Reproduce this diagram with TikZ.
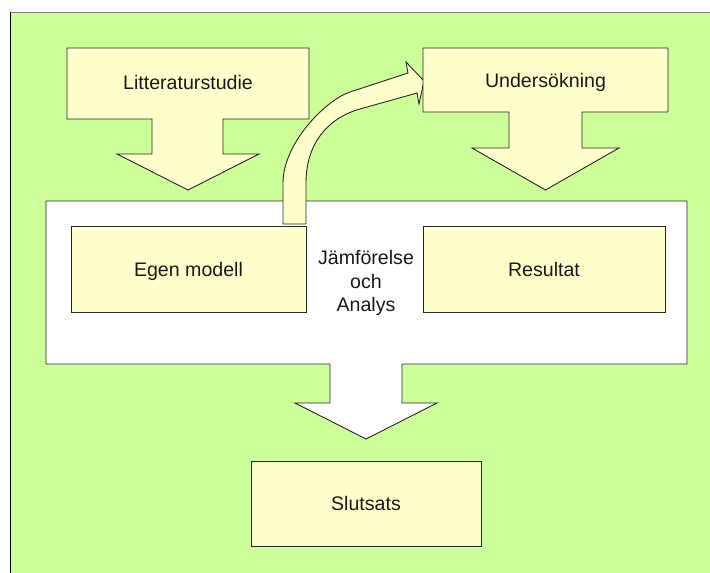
\documentclass[tikz,border=0pt]{standalone}
\usepackage{fontspec}
\setmainfont{Liberation Sans}
\definecolor{bggreen}{HTML}{CCFF99}
\definecolor{cream}{HTML}{FFFFCC}
\begin{document}
\begin{tikzpicture}[x=1pt,y=-1pt,
  shapeline/.style={draw=black!85, line width=0.9pt, line join=miter},
  creamshape/.style={shapeline, fill=cream},
  whiteshape/.style={shapeline, fill=white},
  txt/.style={inner sep=0pt, font=\fontsize{19.6}{23.4}\selectfont, text=black!90},
  boxnode/.style={creamshape, txt, rectangle, text height=14.3pt, text depth=0pt},
]
\useasboundingbox (0,0) rectangle (710,573);

% background panel
\fill[bggreen] (10,12) rectangle (710,573);
\draw[black!50, line width=1.3pt] (10,12.6) -- (710,12.6);
\draw[black, line width=1pt] (10.5,12) -- (10.5,573);

% Litteraturstudie: box with a downward block arrow
\path[creamshape] (67,48) -- (309,48) -- (309,119) -- (223,119) -- (223,154)
  -- (259,154) -- (188,190) -- (117,154) -- (152,154) -- (152,119)
  -- (67,119) -- cycle;
\node[txt, anchor=base] (litt) at (188,89) {Litteraturstudie};

% white comparison panel with the arrow down to the conclusion
\path[whiteshape] (46,201) -- (687,201) -- (687,364) -- (402,364) -- (402,403)
  -- (437,403) -- (366,439) -- (295,403) -- (330,403) -- (330,364)
  -- (46,364) -- cycle;

% curved block arrow from the model up to the investigation
\path[creamshape] (283,224) -- (283,183)
  .. controls (283,143) and (326.2,99.8) .. (350,92)
  -- (408,73) -- (406,62) -- (424,81) -- (419,104) -- (417,93) -- (360,109)
  .. controls (326.3,118.5) and (306,145) .. (306,183)
  -- (306,224) -- cycle;

% Undersökning: box with a downward block arrow
\path[creamshape] (423,48) -- (668,48) -- (668,112) -- (582,112) -- (582,148)
  -- (619,148) -- (545.5,190) -- (472,148) -- (509,148) -- (509,112)
  -- (423,112) -- cycle;
\node[txt, anchor=base] (unders) at (545.5,87) {Undersökning};

% boxes inside the comparison panel
\node[boxnode, minimum width=235pt, minimum height=86pt] (egen) at (188.5,269) {Egen modell};
\node[boxnode, minimum width=242pt, minimum height=86pt] (res) at (544,269) {Resultat};
\node[txt, align=center] (jfa) at (366,283.3) {Jämförelse\\och\\Analys};

% conclusion
\node[boxnode, minimum width=230pt, minimum height=85pt] (slut) at (366,503.5) {Slutsats};
\end{tikzpicture}
\end{document}
